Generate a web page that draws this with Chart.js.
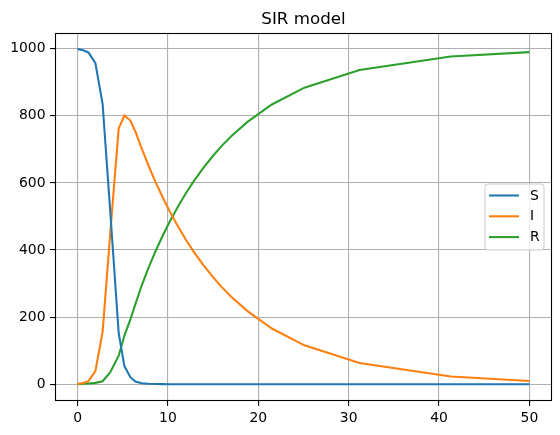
<!DOCTYPE html>
<html>
<head>
<meta charset="utf-8">
<script src="https://cdn.jsdelivr.net/npm/chart.js@4/dist/chart.umd.min.js"></script>
<style>
  html, body { margin: 0; padding: 0; background: #fff; }
  #wrap { width: 560px; height: 435px; position: relative; }
</style>
</head>
<body>
<div id="wrap"><canvas id="c" width="560" height="435"></canvas></div>
<script>
const chartTitle = "SIR model";
const seriesNames = ["S", "I", "R"];
const t = [0, 0.55, 1.2, 1.97, 2.77, 3.6, 4.55, 5.18, 5.84, 6.4, 7.1, 7.8, 8.6, 9.4, 10.2, 11.1, 12.0, 12.9, 13.9, 14.9, 15.9, 17.0, 18.8, 21.5, 25.1, 31.2, 41.3, 50];
const S = [999, 996, 989, 957, 835, 520, 152, 54, 21, 8, 3, 1.2, 0.5, 0.2, 0.1, 0, 0, 0, 0, 0, 0, 0, 0, 0, 0, 0, 0, 0];
const I = [1, 3, 9, 39, 156, 445, 763, 801, 786, 753, 702, 655, 604, 558, 515, 471, 430, 393, 356, 322, 291, 261, 218, 166, 116, 63, 23, 9.6];
const R = [0, 1, 2, 4, 9, 35, 85, 145, 193, 239, 295, 344, 395, 442, 485, 529, 570, 607, 644, 678, 709, 739, 782, 834, 884, 937, 977, 990];
const xTicks = [0, 10, 20, 30, 40, 50];
const yTicks = [0, 200, 400, 600, 800, 1000];
const colors = ["#1f77b4", "#ff7f0e", "#2ca02c"];

Chart.defaults.font.family = "'DejaVu Sans', sans-serif";
Chart.defaults.font.size = 13.9;
Chart.defaults.color = "#000";

const toPts = (ys) => t.map((x, i) => ({ x: x, y: ys[i] }));
const allSeries = [S, I, R];

const framePlugin = {
  id: "frame",
  afterDraw(chart) {
    const { ctx, chartArea: a } = chart;
    ctx.save();
    // frame
    ctx.strokeStyle = "#000";
    ctx.lineWidth = 1.1;
    ctx.strokeRect(Math.round(a.left) + 0.5, Math.round(a.top) + 0.5,
                   Math.round(a.right - a.left) - 1, Math.round(a.bottom - a.top) - 1);
    // title
    ctx.fillStyle = "#000";
    ctx.font = "16.7px 'DejaVu Sans', sans-serif";
    ctx.textAlign = "center";
    ctx.textBaseline = "alphabetic";
    ctx.fillText(chartTitle, (a.left + a.right) / 2, 24);
    // legend
    const bx = 485, by = 184, bw = 59, bh = 66, r = 3;
    ctx.beginPath();
    ctx.moveTo(bx + r, by);
    ctx.lineTo(bx + bw - r, by);
    ctx.quadraticCurveTo(bx + bw, by, bx + bw, by + r);
    ctx.lineTo(bx + bw, by + bh - r);
    ctx.quadraticCurveTo(bx + bw, by + bh, bx + bw - r, by + bh);
    ctx.lineTo(bx + r, by + bh);
    ctx.quadraticCurveTo(bx, by + bh, bx, by + bh - r);
    ctx.lineTo(bx, by + r);
    ctx.quadraticCurveTo(bx, by, bx + r, by);
    ctx.closePath();
    ctx.fillStyle = "rgba(255,255,255,0.8)";
    ctx.fill();
    ctx.strokeStyle = "#cccccc";
    ctx.lineWidth = 1;
    ctx.stroke();
    ctx.font = "13.9px 'DejaVu Sans', sans-serif";
    ctx.textAlign = "left";
    ctx.textBaseline = "middle";
    seriesNames.forEach((name, i) => {
      const y = 195.5 + i * 20.8;
      ctx.strokeStyle = colors[i];
      ctx.lineWidth = 2.08;
      ctx.beginPath();
      ctx.moveTo(489, y);
      ctx.lineTo(519, y);
      ctx.stroke();
      ctx.fillStyle = "#000";
      ctx.fillText(name, 530, y + 0.5);
    });
    ctx.restore();
  }
};

new Chart(document.getElementById("c"), {
  type: "line",
  data: {
    datasets: seriesNames.map((name, i) => ({
      label: name,
      data: toPts(allSeries[i]),
      borderColor: colors[i],
      backgroundColor: colors[i],
      borderWidth: 2.08,
      pointRadius: 0,
      tension: 0,
      fill: false
    }))
  },
  options: {
    responsive: false,
    animation: false,
    layout: { padding: { top: 33, right: 8, left: 0, bottom: 0 } },
    plugins: { legend: { display: false }, title: { display: false }, tooltip: { enabled: false } },
    scales: {
      x: {
        type: "linear",
        min: -2.5,
        max: 52.5,
        afterFit(scale) { scale.height = 34; },
        afterBuildTicks(scale) { scale.ticks = xTicks.map(v => ({ value: v })); },
        grid: { color: "#b0b0b0", lineWidth: 1.1, tickColor: "#000", tickLength: 5, tickWidth: 1.1 },
        border: { display: false },
        ticks: { padding: 4, maxRotation: 0, autoSkip: false, color: "#000", callback: (v) => String(v) }
      },
      y: {
        type: "linear",
        min: -50,
        max: 1047,
        afterFit(scale) { scale.width = 55; },
        afterBuildTicks(scale) { scale.ticks = yTicks.map(v => ({ value: v })); },
        grid: { color: "#b0b0b0", lineWidth: 1.1, tickColor: "#000", tickLength: 5, tickWidth: 1.1 },
        border: { display: false },
        ticks: { padding: 4.5, autoSkip: false, color: "#000", callback: (v) => String(v) }
      }
    }
  },
  plugins: [framePlugin]
});
</script>
</body>
</html>
